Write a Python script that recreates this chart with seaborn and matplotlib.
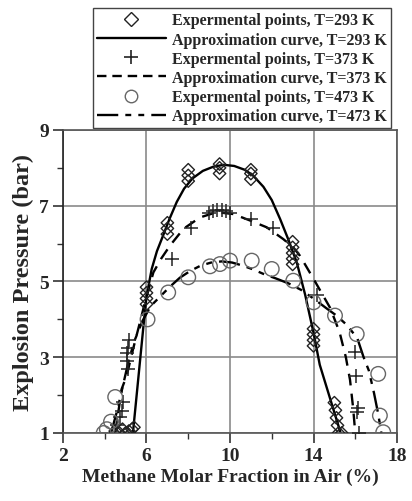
import numpy as np
import matplotlib
matplotlib.use("Agg")
import matplotlib.pyplot as plt
from matplotlib.lines import Line2D
import seaborn as sns

# experimental points, T=293 K (diamonds)
x_293 = [4.5, 4.7, 4.85, 5.0, 5.15, 5.3, 5.4,
         6.0, 6.0, 6.0, 6.0,
         7.0, 7.0, 7.0,
         8.0, 8.0, 8.0,
         9.5, 9.5, 9.5,
         11.0, 11.0, 11.0,
         13.0, 13.0, 13.0, 13.0, 13.0,
         14.0, 14.0, 14.0, 14.0,
         15.0, 15.05, 15.1, 15.15, 15.2, 15.35]
p_293 = [1.05, 1.0, 1.1, 1.0, 1.05, 1.1, 1.15,
         4.4, 4.55, 4.7, 4.85,
         6.25, 6.4, 6.55,
         7.65, 7.8, 7.95,
         7.85, 8.0, 8.1,
         7.7, 7.85, 7.95,
         5.45, 5.6, 5.75, 5.9, 6.05,
         3.3, 3.45, 3.6, 3.75,
         1.8, 1.6, 1.4, 1.2, 1.0, 1.0]

# experimental points, T=373 K (plus)
x_373 = [4.6, 4.73, 4.81, 4.89, 5.05, 5.05, 5.1, 5.1, 5.15,
         7.2, 8.15, 9.0, 9.2, 9.4, 9.6, 9.8, 10.0,
         11.0, 12.05, 14.15, 16.0, 16.05, 16.1, 16.15, 16.2]
p_373 = [1.2, 1.42, 1.59, 1.82, 2.9, 3.1, 2.7, 3.25, 3.45,
         5.6, 6.4, 6.8, 6.85, 6.9, 6.9, 6.85, 6.8,
         6.65, 6.4, 4.63, 3.13, 2.5, 1.55, 1.65, 1.0]

# experimental points, T=473 K (circles)
x_473 = [3.95, 4.1, 4.3, 4.5, 6.05, 7.04, 8.0, 9.04, 9.52, 10.0,
         11.04, 12.0, 13.03, 14.0, 15.03, 16.07, 17.1, 17.18, 17.34]
p_473 = [1.0, 1.1, 1.3, 1.95, 4.0, 4.71, 5.11, 5.4, 5.46, 5.55,
         5.55, 5.33, 5.02, 4.45, 4.1, 3.61, 2.56, 1.46, 1.02]

# approximation curves
cx_293 = [5.35, 5.6, 5.85, 6.0, 6.25, 6.5, 6.8, 7.1, 7.45, 7.8, 8.2, 8.7,
          9.2, 9.7, 10.2, 10.7, 11.1, 11.6, 12.0, 12.4, 12.8, 13.2, 13.6,
          14.0, 14.3, 14.8, 15.3]
cy_293 = [1.0, 2.4, 3.8, 4.6, 5.33, 5.8, 6.22, 6.65, 7.1, 7.45, 7.72, 7.92,
          8.03, 8.08, 8.05, 7.95, 7.8, 7.5, 7.15, 6.65, 6.1, 5.5, 4.65,
          3.65, 2.8, 1.9, 1.0]

cx_373 = [4.5, 4.65, 4.81, 5.05, 5.35, 5.69, 5.95, 6.33, 6.7, 7.13, 7.77,
          8.56, 9.36, 10.16, 10.96, 11.76, 12.55, 13.03, 13.35, 14.0, 14.8,
          15.25, 15.55, 15.75, 15.9, 16.0]
cy_373 = [1.0, 1.55, 2.16, 2.51, 3.2, 3.93, 4.5, 5.24, 5.6, 5.95, 6.39,
          6.69, 6.83, 6.78, 6.61, 6.43, 6.12, 5.9, 5.68, 5.07, 4.3,
          3.66, 3.0, 2.4, 1.65, 1.0]

cx_473 = [4.3, 4.6, 4.85, 5.1, 5.4, 5.8, 6.2, 6.65, 7.1, 7.6, 8.1, 8.6,
          9.1, 9.6, 10.1, 10.6, 11.1, 11.6, 12.2, 12.8, 13.4, 14.0, 14.6,
          15.1, 15.6, 16.1, 16.4, 16.65, 16.9, 17.1, 17.25]
cy_473 = [1.0, 1.6, 2.2, 2.8, 3.4, 3.95, 4.35, 4.6, 4.85, 5.1, 5.28, 5.42,
          5.5, 5.53, 5.5, 5.42, 5.32, 5.2, 5.08, 4.95, 4.78, 4.55, 4.3,
          4.1, 3.85, 3.5, 3.0, 2.65, 2.05, 1.5, 1.0]

x_major = [2, 6, 10, 14, 18]
x_minor = [4, 8, 12, 16]
y_major = [1, 3, 5, 7, 9]
y_minor = [2, 4, 6, 8]

labels = ["Expermental points, T=293 K", "Approximation curve, T=293 K",
          "Expermental points, T=373 K", "Approximation curve, T=373 K",
          "Expermental points, T=473 K", "Approximation curve, T=473 K"]

sns.set_style("ticks")
plt.rcParams["font.family"] = ["Liberation Serif", "DejaVu Serif"]
plt.rcParams["font.weight"] = "bold"

dash_373 = (0, (5, 3.5))
dash_473 = (0, (9, 3, 2.5, 3, 2.5, 3))

fig = plt.figure(figsize=(4.12, 5.02), dpi=100)
ax = fig.add_axes([0.1529, 0.1355, 0.8107, 0.6036])

ax.set_xticks(x_major)
ax.set_xticks(x_minor, minor=True)
ax.set_yticks(y_major)
ax.set_yticks(y_minor, minor=True)
ax.grid(True, which="major", color="#8a8a8a", linewidth=1.2, zorder=0)
ax.set_axisbelow(True)

sns.lineplot(x=cx_293, y=cy_293, sort=False, estimator=None, color="black",
             linewidth=1.7, ax=ax)
sns.lineplot(x=cx_373, y=cy_373, sort=False, estimator=None, color="black",
             linewidth=1.7, linestyle=dash_373, ax=ax)
sns.lineplot(x=cx_473, y=cy_473, sort=False, estimator=None, color="black",
             linewidth=1.7, linestyle=dash_473, ax=ax)

sns.scatterplot(x=x_293, y=p_293, marker="D", s=40, facecolor="none",
                edgecolor="#222222", linewidth=1.0, ax=ax, zorder=3)
sns.scatterplot(x=x_373, y=p_373, marker="+", s=110, color="#222222",
                linewidth=1.1, ax=ax, zorder=3)
sns.scatterplot(x=x_473, y=p_473, marker="o", s=110, facecolor="none",
                edgecolor="#666666", linewidth=1.0, ax=ax, zorder=3)

ax.set_xlim(2, 18)
ax.set_ylim(1, 9)
ax.tick_params(which="major", direction="out", length=7, width=1.2,
               labelsize=14, color="#333333", pad=3)
ax.tick_params(which="minor", direction="out", length=4, width=1.0,
               color="#333333")
for t in ax.get_xticklabels() + ax.get_yticklabels():
    t.set_fontweight("bold")
for side in ["left", "right", "top", "bottom"]:
    ax.spines[side].set_color("#555555")
    ax.spines[side].set_linewidth(1.2)
ax.spines["left"].set_color("#222222")

ax.set_xlabel("Methane Molar Fraction in Air (%)", fontsize=14,
              fontweight="bold", labelpad=3)
ax.set_ylabel("Explosion Pressure (bar)", fontsize=17.5, fontweight="bold",
              labelpad=4)

handles = [
    Line2D([], [], marker="D", markersize=7, markerfacecolor="none",
           markeredgecolor="#222222", linestyle="none"),
    Line2D([], [], color="black", linewidth=1.7),
    Line2D([], [], marker="+", markersize=10, markeredgewidth=1.2,
           color="#222222", linestyle="none"),
    Line2D([], [], color="black", linewidth=1.7, linestyle=(0, (4, 2.5))),
    Line2D([], [], marker="o", markersize=9, markerfacecolor="none",
           markeredgecolor="#666666", linestyle="none"),
    Line2D([], [], color="black", linewidth=1.7, linestyle=dash_473),
]
leg = fig.legend(handles, labels, loc="upper right",
                 bbox_to_anchor=(0.968, 0.997), frameon=True, fancybox=False,
                 edgecolor="#444444", framealpha=1, handlelength=4.3,
                 handletextpad=0.4, labelspacing=0.2, borderpad=0.25,
                 prop={"family": ["Liberation Serif"], "weight": "bold",
                       "size": 11.5})
leg.get_frame().set_linewidth(1.0)

fig.savefig("out.png", dpi=100)
